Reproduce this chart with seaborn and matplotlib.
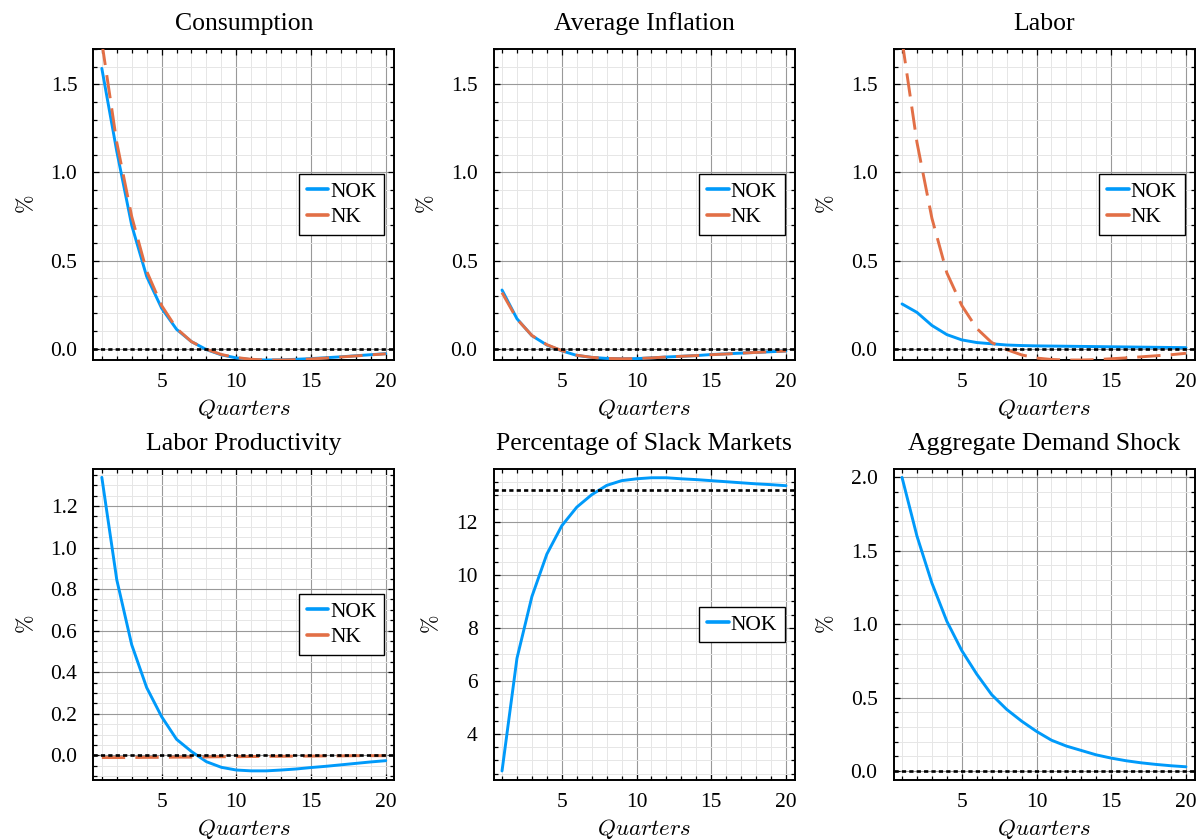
import numpy as np
import pandas as pd
import matplotlib
matplotlib.use("Agg")
import matplotlib.pyplot as plt
import seaborn as sns
from matplotlib.ticker import MultipleLocator, FormatStrFormatter

# ---------------- data ----------------
quarters = list(range(1, 21))

cons_nok = [1.59, 1.12, 0.70, 0.41, 0.23, 0.11, 0.04, -0.005, -0.035, -0.052,
            -0.062, -0.064, -0.063, -0.060, -0.056, -0.051, -0.046, -0.040, -0.034, -0.028]
cons_nk = [1.74, 1.17, 0.75, 0.44, 0.245, 0.115, 0.04, -0.003, -0.033, -0.050,
           -0.060, -0.064, -0.064, -0.062, -0.058, -0.053, -0.047, -0.041, -0.035, -0.029]

infl_nok = [0.333, 0.170, 0.074, 0.021, -0.012, -0.038, -0.049, -0.055, -0.057, -0.056,
            -0.052, -0.047, -0.043, -0.039, -0.033, -0.029, -0.025, -0.021, -0.017, -0.013]
infl_nk = [0.318, 0.168, 0.075, 0.023, -0.011, -0.037, -0.049, -0.055, -0.057, -0.056,
           -0.052, -0.047, -0.043, -0.039, -0.034, -0.030, -0.025, -0.021, -0.017, -0.013]

labor_nok = [0.254, 0.206, 0.132, 0.080, 0.050, 0.035, 0.028, 0.021, 0.018, 0.016,
             0.015, 0.014, 0.013, 0.012, 0.011, 0.010, 0.009, 0.008, 0.007, 0.006]
labor_nk = [1.75, 1.17, 0.74, 0.43, 0.245, 0.115, 0.035, -0.005, -0.035, -0.053,
            -0.061, -0.064, -0.064, -0.062, -0.057, -0.052, -0.046, -0.040, -0.034, -0.026]

prod_nok = [1.338, 0.845, 0.532, 0.326, 0.186, 0.077, 0.018, -0.031, -0.058, -0.071,
            -0.075, -0.075, -0.071, -0.066, -0.059, -0.053, -0.046, -0.039, -0.032, -0.026]
prod_nk = [-0.011, -0.011, -0.011, -0.010, -0.010, -0.009, -0.009, -0.008, -0.007, -0.007,
           -0.006, -0.005, -0.005, -0.004, -0.004, -0.003, -0.003, -0.002, -0.002, -0.002]

slack_nok = [2.60, 6.85, 9.18, 10.78, 11.85, 12.55, 13.02, 13.37, 13.55, 13.62,
             13.66, 13.66, 13.62, 13.59, 13.55, 13.51, 13.47, 13.43, 13.40, 13.36]
slack_steady = 13.18

shock = [2.0, 1.6, 1.28, 1.02, 0.82, 0.66, 0.52, 0.42, 0.34, 0.27,
         0.21, 0.17, 0.14, 0.11, 0.088, 0.070, 0.056, 0.045, 0.036, 0.029]

titles = ["Consumption", "Average Inflation", "Labor",
          "Labor Productivity", "Percentage of Slack Markets", "Aggregate Demand Shock"]
series_names = ["NOK", "NK"]

# ---------------- style ----------------
sns.set_theme(style="white")
plt.rcParams["font.family"] = ["Liberation Serif", "DejaVu Serif"]
plt.rcParams["mathtext.fontset"] = "cm"
for key in ["text.color", "axes.labelcolor", "xtick.color", "ytick.color",
            "axes.titlecolor"]:
    plt.rcParams[key] = "black"

BLUE = "#009AFA"
ORANGE = "#E26F46"

panels = [
    dict(title=titles[0], nok=cons_nok, nk=cons_nk, ref=0.0, ylim=(-0.064, 1.70),
         major=0.5, minor=0.1, fmt="%.1f", legend=True),
    dict(title=titles[1], nok=infl_nok, nk=infl_nk, ref=0.0, ylim=(-0.064, 1.70),
         major=0.5, minor=0.1, fmt="%.1f", legend=True),
    dict(title=titles[2], nok=labor_nok, nk=labor_nk, ref=0.0, ylim=(-0.064, 1.70),
         major=0.5, minor=0.1, fmt="%.1f", legend=True),
    dict(title=titles[3], nok=prod_nok, nk=prod_nk, ref=0.0, ylim=(-0.119, 1.378),
         major=0.2, minor=0.05, fmt="%.1f", legend=True),
    dict(title=titles[4], nok=slack_nok, nk=None, ref=slack_steady, ylim=(2.26, 13.99),
         major=2, minor=0.5, fmt="%d", legend=True),
    dict(title=titles[5], nok=shock, nk=None, ref=0.0, ylim=(-0.061, 2.057),
         major=0.5, minor=0.1, fmt="%.1f", legend=False),
]

W, H = 1199, 840
fig = plt.figure(figsize=(W / 100, H / 100), dpi=100)
fig.patch.set_facecolor("white")

lefts = [93.3, 493.5, 893.5]
bottoms_px = [360, 780]
aw, ah = 301, 311

for i, p in enumerate(panels):
    r, c = divmod(i, 3)
    ax = fig.add_axes([lefts[c] / W, (H - bottoms_px[r]) / H, aw / W, ah / H])
    ax.set_facecolor("white")

    df = pd.DataFrame({"q": quarters, "NOK": p["nok"]})
    sns.lineplot(data=df, x="q", y="NOK", ax=ax, color=BLUE, lw=2.1,
                 label="NOK" if p["legend"] else None, zorder=3)
    if p["nk"] is not None:
        df2 = pd.DataFrame({"q": quarters, "NK": p["nk"]})
        sns.lineplot(data=df2, x="q", y="NK", ax=ax, color=ORANGE, lw=2.1,
                     linestyle=(0, (8, 3.5)), label="NK", zorder=4)

    ax.axhline(p["ref"], color="black", lw=1.9, linestyle=(0, (1.6, 1.2)), zorder=5)

    ax.set_xlim(0.43, 20.57)
    ax.set_ylim(*p["ylim"])
    ax.xaxis.set_major_locator(MultipleLocator(5))
    ax.xaxis.set_minor_locator(MultipleLocator(1))
    ax.yaxis.set_major_locator(MultipleLocator(p["major"]))
    ax.yaxis.set_minor_locator(MultipleLocator(p["minor"]))
    ax.yaxis.set_major_formatter(FormatStrFormatter(p["fmt"]))
    ax.xaxis.set_major_formatter(FormatStrFormatter("%d"))

    ax.grid(which="major", color="#999999", lw=0.8)
    ax.grid(which="minor", color="#e6e6e6", lw=0.7)
    ax.set_axisbelow(True)

    ax.tick_params(which="both", direction="in", top=True, right=True,
                   bottom=True, left=True, color="black", width=0.9,
                   labelsize=15.5, labelcolor="black")
    ax.tick_params(which="major", length=4.5)
    ax.tick_params(axis="x", which="major", pad=9.5)
    ax.tick_params(axis="y", which="major", pad=11.5)
    ax.tick_params(which="minor", length=3)
    for s in ax.spines.values():
        s.set_visible(True)
        s.set_color("black")
        s.set_linewidth(1.4)

    ax.set_title(p["title"], fontsize=18.5, pad=14, color="black")
    ax.set_xlabel(r"$Quarters$", fontsize=16.5, labelpad=3.5)
    ax.set_ylabel(r"$\%$", fontsize=16, labelpad=9)

    if p["legend"]:
        leg = ax.legend(loc="center right", bbox_to_anchor=(0.967, 0.5), fontsize=15.5,
                        frameon=True, fancybox=False, edgecolor="black", framealpha=1,
                        handlelength=1.0, handletextpad=0.1, borderpad=0.35,
                        labelspacing=0.25, borderaxespad=0)
        leg.get_frame().set_linewidth(1.0)
        for ln in leg.get_lines():
            ln.set_linestyle("-")
            ln.set_linewidth(2.6)
        for t in leg.get_texts():
            t.set_color("black")
    else:
        lg = ax.get_legend()
        if lg is not None:
            lg.remove()

fig.savefig("out.png", dpi=100, facecolor="white")
